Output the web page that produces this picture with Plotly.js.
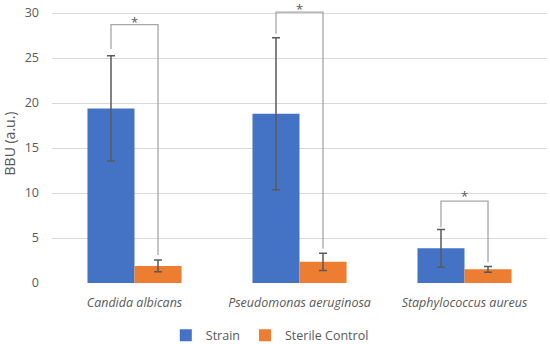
<!DOCTYPE html>
<html><head><meta charset="utf-8">
<script src="https://cdn.plot.ly/plotly-3.0.1.min.js"></script>
<style>html,body{margin:0;padding:0;background:#fff}#chart{width:550px;height:344px}</style>
</head><body><div id="chart"></div>
<script>
const categories = ["Candida albicans", "Pseudomonas aeruginosa", "Staphylococcus aureus"];
const seriesNames = ["Strain", "Sterile Control"];
const strainValues = [19.4, 18.8, 3.85];
const strainErrors = [5.85, 8.45, 2.1];
const controlValues = [1.9, 2.35, 1.52];
const controlErrors = [0.65, 0.95, 0.32];
const bracketTop = [28.7, 30.1, 9.1];
const bracketLeftEnd = [26.0, 27.7, 6.2];
const bracketRightEnd = [3.1, 3.8, 2.3];
const starY = [28.95, 30.4, 9.65];
const starLabels = ["*", "*", "*"];
const yTicks = [0, 5, 10, 15, 20, 25, 30];

const gray = "#595959";
const bargap = 0.43;
const half = (1 - bargap) / 4; // center offset of each bar in its group

const errStyle = {type: "data", visible: true, color: "#5a5a5a", thickness: 1.5, width: 4};
const traces = [
  {type: "bar", name: seriesNames[0], x: categories, y: strainValues,
   marker: {color: "#4472C4"}, error_y: Object.assign({array: strainErrors}, errStyle)},
  {type: "bar", name: seriesNames[1], x: categories, y: controlValues,
   marker: {color: "#ED7D31"}, error_y: Object.assign({array: controlErrors}, errStyle)}
];

const shapes = [];
const annotations = [];
categories.forEach((c, i) => {
  const xl = i - half, xr = i + half;
  shapes.push({type: "path", xref: "x", yref: "y",
    path: `M${xl},${bracketLeftEnd[i]} L${xl},${bracketTop[i]} L${xr},${bracketTop[i]} L${xr},${bracketRightEnd[i]}`,
    line: {color: "#a6a6a6", width: 1.3}});
  annotations.push({x: i, y: starY[i], xref: "x", yref: "y", text: starLabels[i], showarrow: false,
    font: {size: 13, color: gray, family: "Open Sans"}, yanchor: "middle"});
});

const layout = {
  width: 550, height: 344,
  margin: {l: 52, r: 3, t: 4, b: 61},
  paper_bgcolor: "#fff", plot_bgcolor: "#fff",
  font: {family: "Open Sans, sans-serif", color: gray, size: 12},
  barmode: "group", bargap: bargap, bargroupgap: 0,
  xaxis: {type: "category", showgrid: false, zeroline: false, showline: false, ticks: "",
    tickfont: {size: 12.5, color: gray, style: "italic"}, ticklabelstandoff: 10, automargin: false},
  yaxis: {range: [0, 31], tickvals: yTicks, ticktext: yTicks.map(String), showgrid: true,
    gridcolor: "#d9d9d9", gridwidth: 1, zeroline: false, showline: false, ticks: "",
    tickfont: {size: 12.5, color: gray}, ticklabelstandoff: 12, automargin: false,
    title: {text: "BBU (a.u.)", font: {size: 14, color: gray}, standoff: 7}},
  legend: {orientation: "h", x: 0.44, xanchor: "center", xref: "paper",
    y: 0.024, yanchor: "middle", yref: "container",
    font: {size: 12.5, color: gray}, itemwidth: 30, traceorder: "normal"},
  shapes: shapes, annotations: annotations
};

Plotly.newPlot("chart", traces, layout, {displayModeBar: false, staticPlot: true});
</script></body></html>
